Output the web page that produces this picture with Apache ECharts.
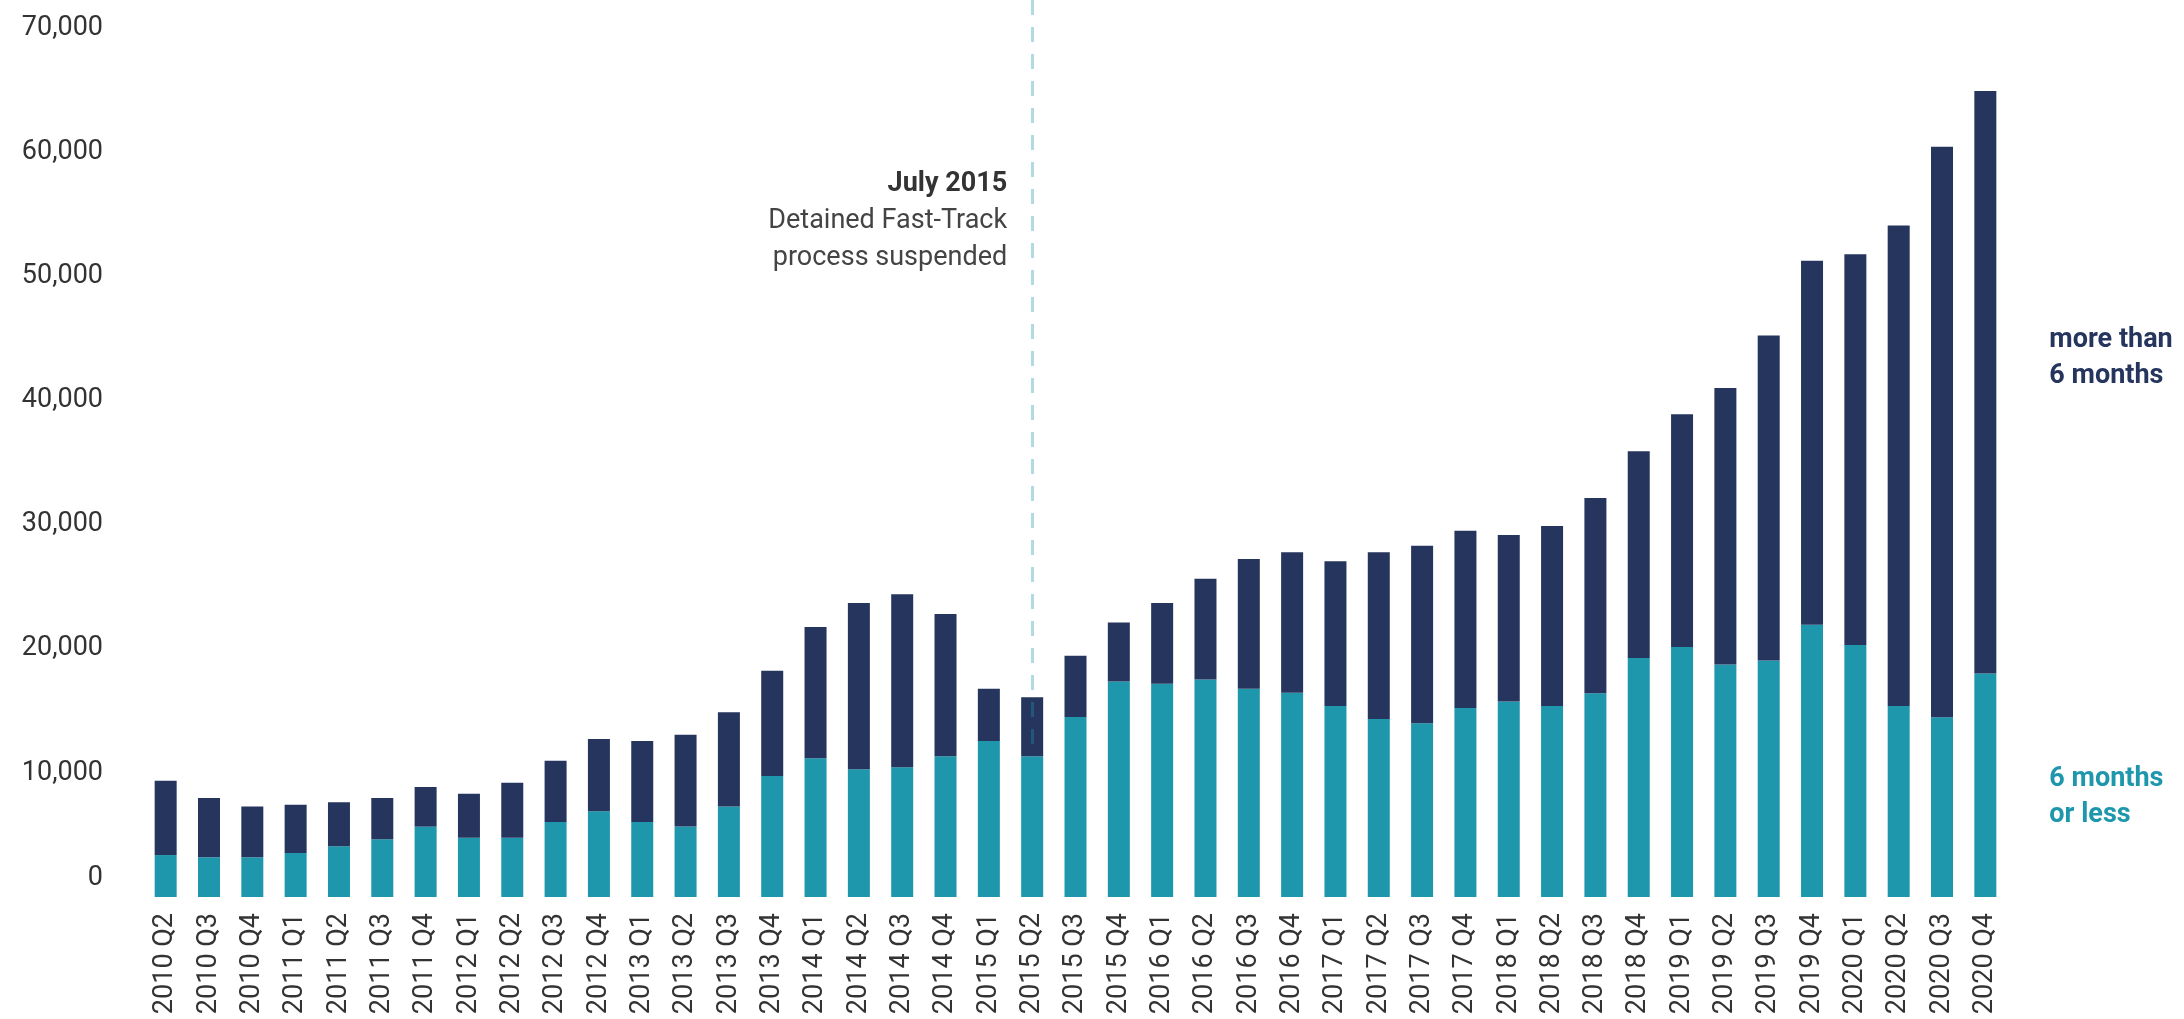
<!doctype html>
<html lang="en">
<head>
    <meta charset="utf-8">
    <title>Asylum applications awaiting an initial decision</title>
    <script src="https://cdn.jsdelivr.net/npm/echarts@6.0.0/dist/echarts.min.js"></script>
    <style>
        html, body { margin: 0; padding: 0; background: #fff; }
        #main { width: 2184px; height: 1019px; }
    </style>
</head>
<body>
<div id="main"></div>
<script>
    var quarters = ['2010 Q2', '2010 Q3', '2010 Q4', '2011 Q1', '2011 Q2', '2011 Q3', '2011 Q4',
        '2012 Q1', '2012 Q2', '2012 Q3', '2012 Q4', '2013 Q1', '2013 Q2', '2013 Q3', '2013 Q4',
        '2014 Q1', '2014 Q2', '2014 Q3', '2014 Q4', '2015 Q1', '2015 Q2', '2015 Q3', '2015 Q4',
        '2016 Q1', '2016 Q2', '2016 Q3', '2016 Q4', '2017 Q1', '2017 Q2', '2017 Q3', '2017 Q4',
        '2018 Q1', '2018 Q2', '2018 Q3', '2018 Q4', '2019 Q1', '2019 Q2', '2019 Q3', '2019 Q4',
        '2020 Q1', '2020 Q2', '2020 Q3', '2020 Q4'];

    // waiting 6 months or less
    var sixOrLess = [3380, 3200, 3200, 3540, 4080, 4650, 5670, 4780, 4780, 6040,
        6900, 6040, 5670, 7280, 9750, 11170, 10280, 10450, 11330, 12570,
        11330, 14500, 17350, 17180, 17510, 16780, 16460, 15390, 14340, 13990,
        15220, 15740, 15380, 16420, 19250, 20140, 18730, 19040, 21930, 20300,
        15380, 14480, 18000];

    // waiting more than 6 months
    var moreThanSix = [5990, 4780, 4080, 3900, 3550, 3330, 3190, 3540, 4430, 4940,
        5830, 6530, 7400, 7600, 8480, 10580, 13400, 13930, 11470, 4210,
        4750, 4940, 4750, 6500, 8130, 10450, 11310, 11650, 13430, 14310,
        14290, 13410, 14500, 15720, 16660, 18750, 22260, 26190, 29320, 31480,
        38700, 45940, 46920];

    var yStep = 10000;
    var yTop = 72250;
    var eventQuarter = '2015 Q2';
    var eventTitle = 'July 2015';
    var eventText = ['Detained Fast-Track', 'process suspended'];
    var labelMore = ['more than', '6 months'];
    var labelLess = ['6 months', 'or less'];

    var TEAL = '#1e97ad';
    var NAVY = '#26355e';
    var FONT = 'Roboto';

    var last = quarters.length - 1;
    var eventIdx = quarters.indexOf(eventQuarter);

    // series name written beside the last bar, in place of a legend
    function withEndLabel(arr, text, color, dy) {
        return arr.map(function (v, i) {
            if (i !== last) return v;
            return {
                value: v,
                label: {
                    show: true,
                    position: 'right',
                    distance: 53,
                    offset: [0, dy],
                    formatter: text.join('\n'),
                    color: color,
                    fontFamily: FONT,
                    fontWeight: 'bold',
                    fontSize: 27,
                    lineHeight: 36,
                    align: 'left'
                }
            };
        });
    }

    var chart = echarts.init(document.getElementById('main'));
    chart.setOption({
        animation: false,
        backgroundColor: '#fff',
        grid: {
            left: 144,
            right: 177,
            top: 0,
            bottom: 122,
            containLabel: false,
            outerBoundsMode: 'none'
        },
        xAxis: {
            type: 'category',
            data: quarters,
            axisLine: { show: false },
            axisTick: { show: false },
            axisLabel: {
                interval: 0,
                rotate: 90,
                margin: 16,
                color: '#333',
                fontFamily: FONT,
                fontSize: 27
            }
        },
        yAxis: {
            type: 'value',
            min: 0,
            max: yTop,
            interval: yStep,
            axisLine: { show: false },
            axisTick: { show: false },
            splitLine: { show: false },
            axisLabel: {
                margin: 41,
                color: '#333',
                fontFamily: FONT,
                fontSize: 27,
                formatter: function (v) {
                    if (v % yStep !== 0) return '';
                    if (v === 0) return '{z|0}';
                    return v.toLocaleString('en-US');
                },
                rich: {
                    z: { padding: [0, 0, 38, 0], fontFamily: FONT, fontSize: 27, color: '#333' }
                }
            }
        },
        series: [{
            name: '6 months or less',
            type: 'bar',
            stack: 'total',
            barWidth: 22,
            itemStyle: { color: TEAL },
            data: withEndLabel(sixOrLess, labelLess, TEAL, 12)
        }, {
            name: 'more than 6 months',
            type: 'bar',
            stack: 'total',
            barWidth: 22,
            itemStyle: { color: NAVY },
            data: withEndLabel(moreThanSix, labelMore, NAVY, -24),
            markLine: {
                silent: true,
                symbol: 'none',
                label: { show: false },
                lineStyle: { color: TEAL, width: 3, type: [15, 12], opacity: 0.35 },
                data: [[
                    { coord: [eventQuarter, yTop] },
                    { coord: [eventQuarter, sixOrLess[eventIdx]] }
                ]]
            },
            markPoint: {
                silent: true,
                symbol: 'circle',
                symbolSize: 0,
                data: [{
                    coord: [eventQuarter, 54400],
                    label: {
                        show: true,
                        position: 'left',
                        distance: 25,
                        align: 'right',
                        formatter: '{t|' + eventTitle + '}\n' + eventText.map(function (s) {
                            return '{s|' + s + '}';
                        }).join('\n'),
                        rich: {
                            t: { fontFamily: FONT, fontSize: 27, fontWeight: 'bold', color: '#333', lineHeight: 37, align: 'right' },
                            s: { fontFamily: FONT, fontSize: 27, color: '#444', lineHeight: 37, align: 'right' }
                        }
                    }
                }]
            }
        }]
    });
</script>
</body>
</html>
